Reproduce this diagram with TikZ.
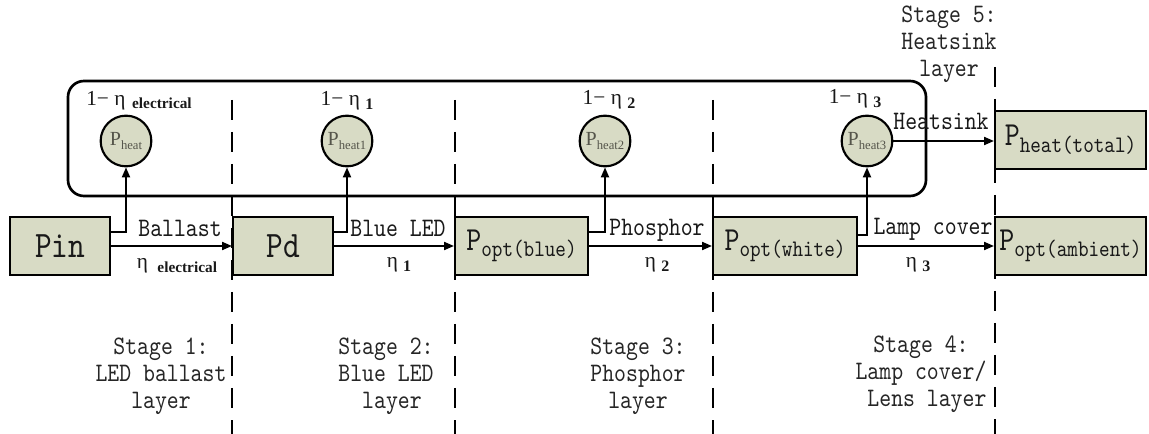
\documentclass[tikz,border=0pt]{standalone}
\usepackage{fontspec}
\usetikzlibrary{arrows.meta}
\newfontfamily\monof[FakeStretch=0.85]{lmmono10-regular.otf}
\newfontfamily\serf{Liberation Serif}
\definecolor{boxfill}{RGB}{216,219,197}
\definecolor{inkc}{RGB}{25,25,25}
\definecolor{heatc}{RGB}{85,85,75}
\newcommand\bigtxt[2]{{\monof\fontsize{25.2pt}{25.2pt}\selectfont #1}\raisebox{-5pt}{\monof\fontsize{17.8pt}{17.8pt}\selectfont #2}}
\newcommand\heattxt[1]{{\serf\fontsize{15pt}{15pt}\selectfont P}\raisebox{-2.5pt}{\serf\fontsize{9.5pt}{9.5pt}\selectfont #1}}
\newcommand\subbold[2]{\raisebox{#1}{\bfseries\fontsize{12pt}{12pt}\selectfont #2}}
\begin{document}
\begin{tikzpicture}[x=0.75pt,y=-0.75pt,
  every node/.style={inner sep=0pt,text=inkc},
  box/.style={draw=black,line width=1.5pt,fill=boxfill,minimum height=43.5pt},
  heat/.style={circle,draw=black,line width=1.6pt,fill=boxfill,minimum size=38pt,text=heatc},
  arr/.style={draw=black,line width=1.5pt,-{Triangle[length=7.5pt,width=6pt]}},
  divider/.style={draw=black,line width=1.9pt,dash pattern=on 15pt off 9pt},
  lab/.style={font=\monof\fontsize{20pt}{20pt}\selectfont,anchor=base},
  stage/.style={font=\monof\fontsize{20pt}{20.25pt}\selectfont,align=center,anchor=north,text=black!85},
  eta/.style={font=\serf\fontsize{16pt}{16pt}\selectfont,anchor=base}]
\useasboundingbox (0,0) rectangle (1149,434);

% stage dividers
\draw[divider] (232,100) -- (232,434);
\draw[divider] (455,100) -- (455,434);
\draw[divider] (713,100) -- (713,434);
\draw[divider] (995,67) -- (995,434);

% heat group frame
\draw[line width=2pt,rounded corners=12pt] (68,81) rectangle (926,196);

% power boxes
\node[box,minimum width=75pt] (pin) at (60,246) {\monof\fontsize{28pt}{28pt}\selectfont Pin};
\node[box,minimum width=75pt] (pd) at (283,246) {\monof\fontsize{28pt}{28pt}\selectfont Pd};
\node[box,minimum width=99.75pt] (pblue) at (521.5,246) {\bigtxt{P}{opt(blue)}};
\node[box,minimum width=108pt] (pwhite) at (785,246) {\bigtxt{P}{opt(white)}};
\node[box,minimum width=113.25pt] (pamb) at (1070.5,246) {\bigtxt{P}{opt(ambient)}};
\node[box,minimum width=113.25pt] (ptot) at (1070.5,140) {\bigtxt{P}{heat(total)}};

% heat circles
\node[heat] (hc0) at (126,141) {\heattxt{heat}};
\node[heat] (hc1) at (347,141) {\heattxt{heat1}};
\node[heat] (hc2) at (605,141) {\heattxt{heat2}};
\node[heat] (hc3) at (867,141) {\heattxt{heat3}};

% main flow
\draw[arr] (pin.east) -- (pd.west);
\draw[arr] (pd.east) -- (pblue.west);
\draw[arr] (pblue.east) -- (pwhite.west);
\draw[arr] (pwhite.east) -- (pamb.west);
\draw[arr] (hc3.east) -- (ptot.west |- hc3.east);

% heat branches
\draw[arr] (pin.east |- 0,232) -| (hc0.south);
\draw[arr] (pd.east |- 0,232) -| (hc1.south);
\draw[arr] (pblue.east |- 0,232) -| (hc2.south);
\draw[arr] (pwhite.east |- 0,235) -| (hc3.south);

% connector labels
\node[lab] (lba) at (180,237) {Ballast};
\node[lab] (lbl) at (398,237) {Blue LED};
\node[lab] (lph) at (657,236) {Phosphor};
\node[lab] (llc) at (933,235) {Lamp cover};
\node[lab] (lhs) at (941,130) {Heatsink};

\node[eta] (e0) at (177,269) {η\hspace{7pt}\raisebox{-3pt}{\bfseries\fontsize{11.5pt}{11.5pt}\selectfont electrical}};
\node[eta] (e1) at (399,268) {η\hspace{4pt}\subbold{-3pt}{1}};
\node[eta] (e2) at (657,268) {η\hspace{4pt}\subbold{-3pt}{2}};
\node[eta] (e3) at (918,268) {η\hspace{4pt}\subbold{-3pt}{3}};

\node[eta] (t0) at (139,106) {1− η\hspace{5pt}\raisebox{-2pt}{\bfseries\fontsize{11.5pt}{11.5pt}\selectfont electrical}};
\node[eta] (t1) at (347,106) {1− η\hspace{4pt}\subbold{-3pt}{1}};
\node[eta] (t2) at (609,105) {1− η\hspace{4pt}\subbold{-3pt}{2}};
\node[eta] (t3) at (855,104) {1− η\hspace{4pt}\subbold{-3pt}{3}};

% stage captions
\node[stage] (s1) at (161,338) {Stage 1:\\LED ballast\\layer};
\node[stage] (s2) at (386,338) {Stage 2:\\Blue LED\\\phantom{x}layer};
\node[stage] (s3) at (638,338) {Stage 3:\\Phosphor\\layer};
\node[stage] (s4) at (921,336) {Stage 4:\\Lamp cover/\\\phantom{x}Lens layer};
\node[stage] (s5) at (949,6) {Stage 5:\\Heatsink\\layer};
\end{tikzpicture}
\end{document}
